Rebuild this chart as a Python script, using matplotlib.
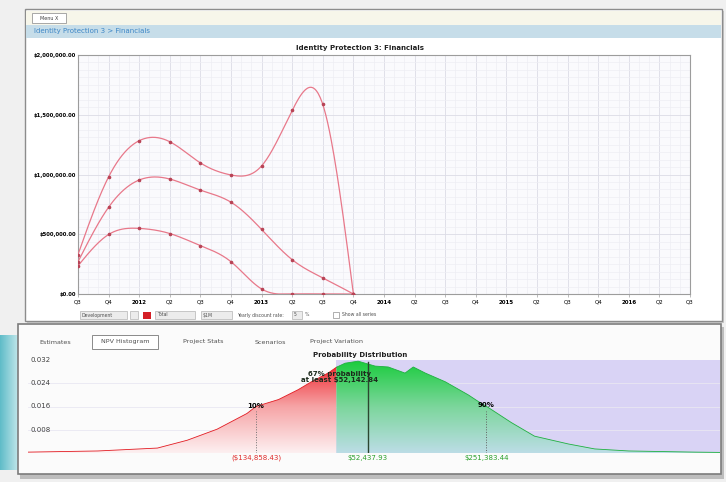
import numpy as np
import matplotlib.pyplot as plt
from matplotlib.patches import Rectangle
from matplotlib.colors import LinearSegmentedColormap

W, H = 726, 482

# top chart: quarterly financials, index 0 = 2011 Q3
quarters = np.arange(10)
quarter_labels = ['Q3', 'Q4', '2012', 'Q2', 'Q3', 'Q4', '2013', 'Q2', 'Q3', 'Q4', '2014',
                  'Q2', 'Q3', 'Q4', '2015', 'Q2', 'Q3', 'Q4', '2016', 'Q2', 'Q3']
high = [330000, 980000, 1283000, 1274000, 1097000, 996000, 1072000, 1536000, 1586000, 0]
mid = [270000, 726000, 954000, 962000, 869000, 768000, 540000, 287000, 135000, 0]
low = [236000, 498000, 549000, 506000, 405000, 270000, 42000, 0, 0, 0]
y_ticks = [0, 500000, 1000000, 1500000, 2000000]

# bottom chart: NPV histogram (x in dollars)
npv = [-517000, -400000, -300000, -250000, -200000, -150000, -135000, -97000, -64000,
       -42000, -14000, 0, 14600, 36400, 65000, 86800, 115000, 128800, 149000, 182500,
       221000, 238000, 255000, 293000, 332000, 389000, 433000, 490000, 601000, 643000]
density = [0.0003, 0.0007, 0.0017, 0.0044, 0.0082, 0.0136, 0.0160, 0.0184, 0.0218,
           0.0245, 0.0275, 0.0295, 0.0309, 0.0316, 0.0299, 0.0296, 0.0275, 0.0296, 0.0275,
           0.0245, 0.0200, 0.0177, 0.0156, 0.0105, 0.0058, 0.0031, 0.0014, 0.0007,
           0.0003, 0.0002]
p10, p_mark, p90 = -134858.43, 52437.93, 251383.44
dens_ticks = [0.008, 0.016, 0.024, 0.032]
tabs = ['Estimates', 'NPV Histogram', 'Project Stats', 'Scenarios', 'Project Variation']


def box(x0, y0, x1, y1):
    return [x0 / W, 1 - y1 / H, (x1 - x0) / W, (y1 - y0) / H]


def spline(x, y, n=300):
    # natural cubic spline through the points
    x = np.asarray(x, float)
    y = np.asarray(y, float)
    k = len(x)
    h = np.diff(x)
    A = np.zeros((k, k))
    r = np.zeros(k)
    A[0, 0] = A[-1, -1] = 1
    for i in range(1, k - 1):
        A[i, i - 1] = h[i - 1]
        A[i, i] = 2 * (h[i - 1] + h[i])
        A[i, i + 1] = h[i]
        r[i] = 6 * ((y[i + 1] - y[i]) / h[i] - (y[i] - y[i - 1]) / h[i - 1])
    M = np.linalg.solve(A, r)
    xs = np.linspace(x[0], x[-1], n)
    j = np.clip(np.searchsorted(x, xs) - 1, 0, k - 2)
    t0 = x[j + 1] - xs
    t1 = xs - x[j]
    hj = h[j]
    ys = (M[j] * t0 ** 3 + M[j + 1] * t1 ** 3) / (6 * hj) \
        + (y[j] / hj - M[j] * hj / 6) * t0 + (y[j + 1] / hj - M[j + 1] * hj / 6) * t1
    return xs, np.clip(ys, 0, None)


fig = plt.figure(figsize=(W / 100, H / 100), dpi=100)
fig.patch.set_facecolor('#f0f0f0')

# window decorations
bg = fig.add_axes([0, 0, 1, 1])
bg.set_xlim(0, W)
bg.set_ylim(H, 0)
bg.axis('off')

glow = np.linspace(0, 1, 50).reshape(1, -1)
bg.imshow(glow, extent=[0, 18, 470, 335], aspect='auto',
          cmap=LinearSegmentedColormap.from_list('g', ['#5fbcc8', '#bfe6ea']))
bg.set_xlim(0, W)
bg.set_ylim(H, 0)

bg.add_patch(Rectangle((27, 11), 697, 312, facecolor='#c8c8c8', edgecolor='none'))
bg.add_patch(Rectangle((25, 9), 697, 312, facecolor='white', edgecolor='#8c8c8c', lw=1))
bg.add_patch(Rectangle((26, 11), 695, 14, facecolor='#f7f6ea', edgecolor='none'))
bg.add_patch(Rectangle((32, 13), 34, 10, facecolor='white', edgecolor='#9a9a9a', lw=0.6))
bg.text(49, 18, 'Menu X', fontsize=3.5, ha='center', va='center', color='#404040')
bg.add_patch(Rectangle((26, 25), 695, 13, facecolor='#c6dde9', edgecolor='none'))
bg.text(34, 31.5, 'Identity Protection 3 > Financials', fontsize=5, color='#3d86c6',
        va='center')
bg.text(360, 48, 'Identity Protection 3: Financials', fontsize=5, fontweight='bold',
        ha='center', va='center', color='#202020')

# toolbar under the top chart
def field(x0, x1, label=''):
    bg.add_patch(Rectangle((x0, 311), x1 - x0, 8, facecolor='#ececec',
                           edgecolor='#b4b4b4', lw=0.5))
    if label:
        bg.text(x0 + 2, 315, label, fontsize=3.3, va='center', color='#505050')


field(80, 127, 'Development')
field(130, 138)
bg.add_patch(Rectangle((143, 311.5), 8, 7, facecolor='#d41f26', edgecolor='none'))
field(155, 195, 'Total')
field(201, 232, '$1M')
bg.text(237, 315, 'Yearly discount rate:', fontsize=3.3, va='center', color='#505050')
field(292, 302, '5')
bg.text(305, 315, '%', fontsize=3.3, va='center', color='#505050')
bg.add_patch(Rectangle((333, 312), 6, 6, facecolor='white', edgecolor='#909090', lw=0.5))
bg.text(342, 315, 'Show all series', fontsize=3.3, va='center', color='#505050')

# bottom panel
bg.add_patch(Rectangle((20, 327), 704, 152, facecolor='#bdbdbd', edgecolor='none'))
bg.add_patch(Rectangle((18, 324), 703, 150, facecolor='#fbfbfb', edgecolor='#7c7c7c', lw=1.2))
tab_x = [55, 125, 203, 270, 336]
for tx, name in zip(tab_x, tabs):
    if name == 'NPV Histogram':
        bg.add_patch(Rectangle((92, 335), 66, 14, facecolor='white', edgecolor='#8a8a8a', lw=0.7))
    bg.text(tx, 342, name, fontsize=4.6, ha='center', va='center', color='#505050')
bg.text(360, 355, 'Probability Distribution', fontsize=5, fontweight='bold',
        ha='center', va='center', color='#202020')

# top chart
ax = fig.add_axes(box(78, 55, 690, 294))
ax.set_facecolor('#fafafd')
ax.set_xlim(0, 20)
ax.set_ylim(0, 2000000)
ax.set_yticks(np.arange(0, 2000001, 62500), minor=True)
ax.set_xticks(np.arange(0, 20.01, 1 / 3), minor=True)
ax.grid(which='minor', color='#eeeef4', lw=0.5)
ax.grid(which='major', color='#dcdce6', lw=0.6)
ax.set_xticks(range(21))
ax.set_xticklabels(quarter_labels, fontsize=4)
for lab in ax.get_xticklabels():
    if lab.get_text().startswith('20'):
        lab.set_fontweight('bold')
ax.set_yticks(y_ticks)
ax.set_yticklabels(['${:,.2f}'.format(v) for v in y_ticks], fontsize=3.8, fontweight='bold')
ax.tick_params(axis='y', length=0, pad=1.5, which='both')
ax.tick_params(axis='x', length=2, width=0.5, pad=2, color='#a0a0a0')
ax.tick_params(axis='x', which='minor', length=0)
for s in ax.spines.values():
    s.set_color('#9c9c9c')
    s.set_linewidth(0.8)
for series in (high, mid, low):
    xs, ys = spline(quarters, series)
    ax.plot(xs, ys, color='#e8788a', lw=0.9, zorder=3)
    ax.plot(quarters, series, 'o', ms=1.6, color='#b84456', zorder=4)

# histogram
hx = fig.add_axes(box(28, 360, 720, 453))
hx.set_xlim(-517000, 643000)
hx.set_ylim(0, 0.032)
hx.axis('off')
hx.add_patch(Rectangle((-517000, 0), 517000, 0.032, facecolor='#fbfbfb', edgecolor='none', zorder=0))
hx.add_patch(Rectangle((0, 0), 643000, 0.032, facecolor='#d9d3f5', edgecolor='none', zorder=0))
for v in dens_ticks[:-1]:
    hx.axhline(v, color='#e9e7f2', lw=0.6, zorder=0.5)

npv_a = np.array(npv, float)
dens_a = np.array(density)
neg = npv_a <= 0
pos = npv_a >= 0
grad = np.linspace(0, 1, 256).reshape(-1, 1)
red_cmap = LinearSegmentedColormap.from_list('r', ['#fdf0f1', '#f6a4a6', '#ee1c24'])
green_cmap = LinearSegmentedColormap.from_list('gr', ['#bcdde6', '#7cd69c', '#19cc3c'])
for mask, cmap, edge in ((neg, red_cmap, '#e21b22'), (pos, green_cmap, '#1fb040')):
    px, py = npv_a[mask], dens_a[mask]
    poly = hx.fill_between(px, 0, py, facecolor='none', edgecolor='none')
    im = hx.imshow(grad, extent=[px[0], px[-1], 0, 0.032], origin='lower',
                   aspect='auto', cmap=cmap, zorder=2)
    im.set_clip_path(poly.get_paths()[0], transform=hx.transData)
    hx.plot(px, py, color=edge, lw=0.6, zorder=3)
hx.set_xlim(-517000, 643000)
hx.set_ylim(0, 0.032)

for v in dens_ticks:
    hx.text(-512000, v, '{:.3f}'.format(v), fontsize=5, va='center', color='#404040', zorder=5)

d10 = np.interp(p10, npv_a, dens_a)
d90 = np.interp(p90, npv_a, dens_a)
hx.plot([p10, p10], [0, d10 - 0.0015], ls=':', color='#707070', lw=0.7, zorder=4)
hx.plot([p90, p90], [0, d90 - 0.0015], ls=':', color='#606060', lw=0.7, zorder=4)
hx.plot([p_mark, p_mark], [0, 0.0312], color='#2c4630', lw=1.0, zorder=4)
hx.text(p10, d10 + 0.0003, '10%', fontsize=5, fontweight='bold', ha='center', va='center', zorder=5)
hx.text(p90, d90 + 0.0003, '90%', fontsize=5, fontweight='bold', ha='center', va='center', zorder=5)
hx.text(6000, 0.0262, '67% probability\nat least $52,142.84', fontsize=5, fontweight='bold',
        ha='center', va='center', linespacing=1.1, color='#1c2a1c', zorder=5)
hx.text(p10, -0.0006, '(${:,.2f})'.format(-p10), fontsize=5, color='#e02a2a',
        ha='center', va='top')
hx.text(p_mark, -0.0006, '${:,.2f}'.format(p_mark), fontsize=5, color='#2aa02a',
        ha='center', va='top')
hx.text(p90, -0.0006, '${:,.2f}'.format(p90), fontsize=5, color='#2aa02a',
        ha='center', va='top')

plt.savefig('out.png', dpi=100)
